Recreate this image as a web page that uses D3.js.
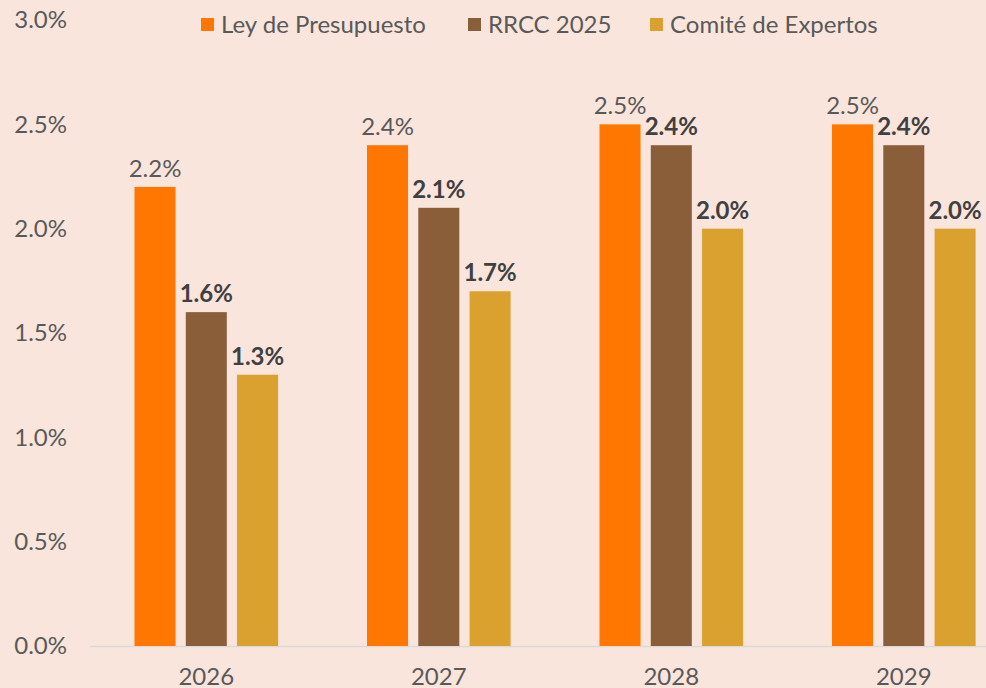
<!DOCTYPE html>
<html><head><meta charset="utf-8">
<script src="https://cdn.jsdelivr.net/npm/d3@7"></script>
<style>
html,body{margin:0;padding:0;background:#F9E5DC;overflow:hidden}
svg{display:block;font-family:Lato,sans-serif}
</style></head>
<body>
<svg id="c" width="986" height="688"></svg>
<script>
const years = ["2026","2027","2028","2029"];
const seriesNames = ["Ley de Presupuesto","RRCC 2025","Comité de Expertos"];
const leyPresupuesto = [2.2, 2.4, 2.5, 2.5];
const rrcc2025 = [1.6, 2.1, 2.4, 2.4];
const comiteExpertos = [1.3, 1.7, 2.0, 2.0];
const yTicks = [0, 0.5, 1.0, 1.5, 2.0, 2.5, 3.0];

const seriesValues = [leyPresupuesto, rrcc2025, comiteExpertos];
const colors = ["#FF7700", "#8B5E3A", "#DAA12F"];
const labelWeights = ["normal", "bold", "bold"];
const textColor = "#595959";
const FS = "24px";

const svg = d3.select("#c");
svg.append("rect").attr("width",986).attr("height",688).attr("fill","#F9E5DC");

const y = d3.scaleLinear().domain([0,3]).range([646,20]);
const x0 = d3.scaleBand().domain(years).range([90,1020]).paddingInner(0).paddingOuter(0);
const x1 = d3.scaleBand().domain(seriesNames).range([44.5,188.1]).paddingInner(0.2).paddingOuter(0);

// y axis labels
const yAxis = d3.axisLeft(y).tickValues(yTicks).tickFormat(d => d.toFixed(1)+"%").tickSize(0).tickPadding(0);
const gy = svg.append("g").attr("transform","translate(67,0)").call(yAxis);
gy.select(".domain").remove();
gy.selectAll("text").attr("fill",textColor).style("font-size",FS).style("font-family","Lato");

// baseline
svg.append("line").attr("x1",90).attr("x2",1020).attr("y1",y(0)+0.5).attr("y2",y(0)+0.5)
  .attr("stroke","#D9D9D9").attr("stroke-width",1.5);

// x axis labels
const xAxis = d3.axisBottom(x0).tickSize(0).tickPadding(22);
const gx = svg.append("g").attr("transform",`translate(0,${y(0)})`).call(xAxis);
gx.select(".domain").remove();
gx.selectAll("text").attr("fill",textColor).style("font-size",FS).style("font-family","Lato");

// bars
const groups = svg.append("g").selectAll("g").data(years).join("g")
  .attr("transform", d => `translate(${x0(d)},0)`);
seriesNames.forEach((s, si) => {
  groups.append("rect")
    .attr("x", x1(s))
    .attr("width", x1.bandwidth())
    .attr("y", (d,i) => y(seriesValues[si][i]))
    .attr("height", (d,i) => y(0) - y(seriesValues[si][i]))
    .attr("fill", colors[si]);
  groups.append("text")
    .attr("x", x1(s) + x1.bandwidth()/2)
    .attr("y", (d,i) => y(seriesValues[si][i]) - 10)
    .attr("text-anchor","middle")
    .attr("fill", si === 0 ? textColor : "#404040")
    .style("font-size",FS)
    .style("font-weight", labelWeights[si])
    .text((d,i) => seriesValues[si][i].toFixed(1)+"%");
});

// legend
const legendX = [201, 468, 650];
const leg = svg.append("g");
seriesNames.forEach((s, si) => {
  leg.append("rect").attr("x",legendX[si]).attr("y",18).attr("width",13).attr("height",13).attr("fill",colors[si]);
  leg.append("text").attr("x",legendX[si]+20).attr("y",33).attr("fill",textColor)
    .style("font-size",FS).text(s);
});
</script>
</body></html>
